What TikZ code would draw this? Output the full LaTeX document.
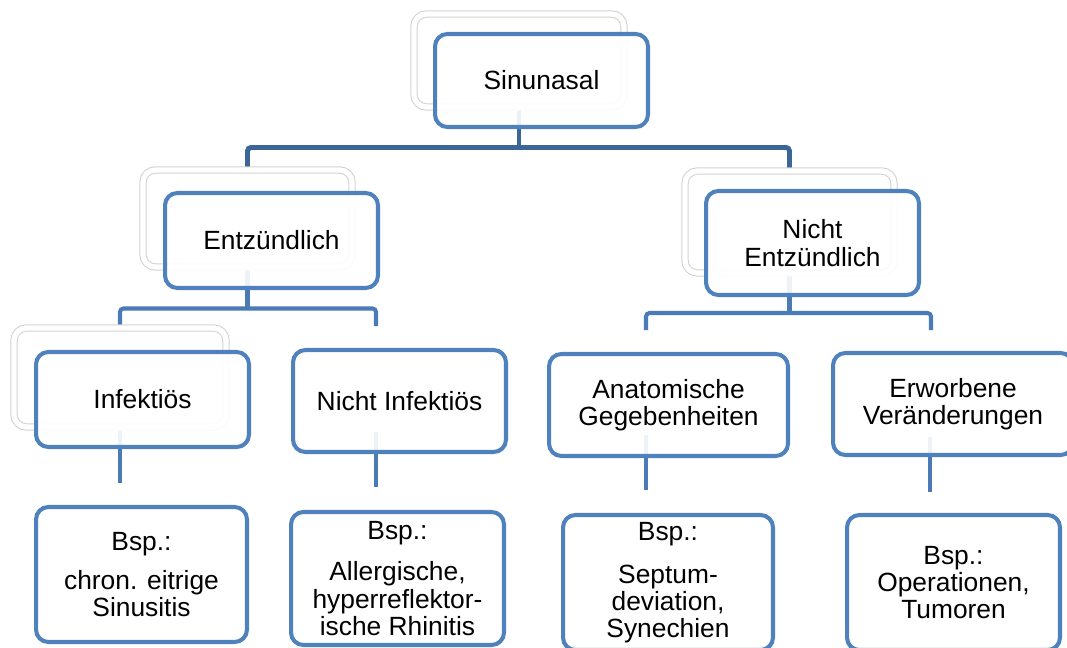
\documentclass[tikz,border=0pt]{standalone}
\usepackage{fontspec}
\setmainfont{Liberation Sans}
\pgfdeclarelayer{edgelayer}
\pgfdeclarelayer{nodelayer}
\pgfsetlayers{edgelayer,nodelayer,main}
\definecolor{boxblue}{HTML}{4F81BD}
\definecolor{trunkblue}{HTML}{3C6697}
\definecolor{branchblue}{HTML}{4A7BB7}
\definecolor{ghostgrey}{HTML}{D2D2D2}
\tikzstyle{level_box}=[rectangle,rounded corners=7pt,draw=boxblue,line width=2.3pt,fill=white,fill opacity=0.9,text opacity=1,align=center,inner sep=0pt,font=\fontsize{15}{15.5}\selectfont]
\tikzstyle{ghost_box}=[rectangle,rounded corners=7pt,draw=ghostgrey,line width=0.6pt,double=white,double distance=3pt,inner sep=0pt]
\tikzstyle{trunk}=[draw=trunkblue,line width=2.8pt,rounded corners=2pt]
\tikzstyle{branch}=[draw=branchblue,line width=2.3pt,rounded corners=2pt]

\begin{document}
\begin{tikzpicture}[x=0.02cm,y=-0.02cm]
	\useasboundingbox (0,0) rectangle (1067,648);
	\begin{pgfonlayer}{nodelayer}
		\node [style={ghost_box}, minimum width=4.20cm, minimum height=1.86cm] (11) at (519, 60.5) {};
		\node [style={ghost_box}, minimum width=4.18cm, minimum height=1.94cm] (12) at (247.5, 218.5) {};
		\node [style={ghost_box}, minimum width=4.18cm, minimum height=2.04cm] (13) at (789.5, 222) {};
		\node [style={ghost_box}, minimum width=4.24cm, minimum height=1.98cm] (14) at (120, 377.5) {};
		\node [style={level_box}, minimum width=4.26cm, minimum height=1.86cm] (0) at (541.5, 80.5) {Sinunasal};
		\node [style={level_box}, minimum width=4.26cm, minimum height=1.90cm] (1) at (271.5, 240.5) {Entzündlich};
		\node [style={level_box}, minimum width=4.26cm, minimum height=2.08cm] (2) at (812.5, 243) {Nicht\\Entzündlich};
		\node [style={level_box}, minimum width=4.26cm, minimum height=1.90cm] (3) at (142.5, 399.5) {Infektiös};
		\node [style={level_box}, minimum width=4.26cm, minimum height=2.04cm] (4) at (399.5, 401) {Nicht Infektiös};
		\node [style={level_box}, minimum width=4.78cm, minimum height=2.04cm] (5) at (668.5, 405) {Anatomische\\Gegebenheiten};
		\node [style={level_box}, minimum width=4.80cm, minimum height=2.04cm] (6) at (953, 404) {Erworbene\\Veränderungen};
		\node [style={level_box}, minimum width=4.22cm, minimum height=2.70cm] (7) at (141.5, 574.5) {Bsp.:\\[7pt]chron. eitrige\\Sinusitis};
		\node [style={level_box}, minimum width=4.26cm, minimum height=2.66cm] (8) at (397.5, 578.5) {Bsp.:\\[8pt]Allergische,\\hyperreflektor-\\ische Rhinitis};
		\node [style={level_box}, minimum width=4.20cm, minimum height=2.70cm] (9) at (668, 582.5) {Bsp.:\\[9pt]Septum-\\deviation,\\Synechien};
		\node [style={level_box}, minimum width=4.26cm, minimum height=2.70cm] (10) at (953.5, 582.5) {Bsp.:\\Operationen,\\Tumoren};
	\end{pgfonlayer}
	\begin{pgfonlayer}{edgelayer}
		\coordinate (15) at (376, 326);
		\coordinate (16) at (646, 330);
		\coordinate (17) at (931, 330);
		\coordinate (18) at (120, 483);
		\coordinate (19) at (376, 432);
		\coordinate (20) at (376, 487);
		\coordinate (21) at (646, 435);
		\coordinate (22) at (646, 490);
		\coordinate (23) at (930, 437);
		\coordinate (24) at (930, 492);
		\draw [style=trunk] (11.south) -- ++(0, 41);
		\draw [style=trunk] (12.north) -- ++(0, -22) -| (13.north);
		\draw [style=branch] (12.south) -- ++(0, 42);
		\draw [style=branch] (14.north) -- ++(0, -19) -| (15);
		\draw [style=branch] (13.south) -- ++(0, 40);
		\draw [style=branch] (16) -- ++(0, -17) -| (17);
		\draw [style=branch] (14.south) -- (18);
		\draw [style=branch] (19) -- (20);
		\draw [style=branch] (21) -- (22);
		\draw [style=branch] (23) -- (24);
	\end{pgfonlayer}
\end{tikzpicture}
\end{document}
